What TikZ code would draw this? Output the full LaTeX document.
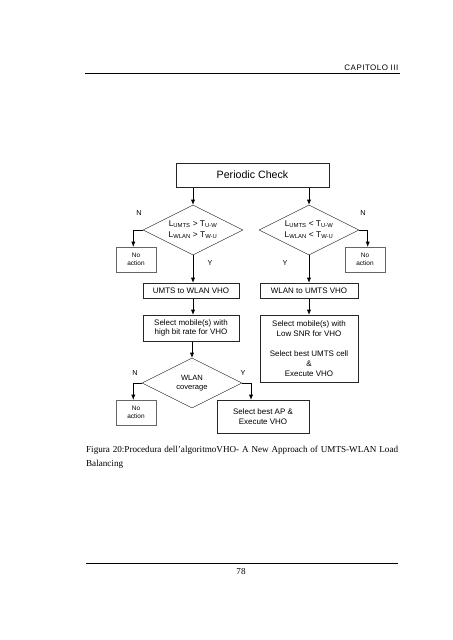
\documentclass[tikz,border=0pt]{standalone}
\usepackage{fontspec}
\setmainfont{Liberation Serif}
\newfontfamily\diagfont{Liberation Sans}
\newfontfamily\headfont[LetterSpace=6]{Liberation Sans}
\usepackage{tikz}
\usetikzlibrary{arrows.meta,shapes.geometric}

\begin{document}
\begin{tikzpicture}[x=1.316pt,y=1.316pt]
\tikzset{
    blk/.style={%
        draw=black!85, line width=0.6pt,
        rectangle,
        align=center,
        inner sep=0pt,
        font=\diagfont\fontsize{10.5}{13}\selectfont
        },
    cnd/.style={%
        draw=black!85, line width=0.6pt,
        diamond, aspect=2.4,
        align=center,
        inner sep=0pt,
        minimum width=131.6pt,
        minimum height=65.8pt,
        font=\diagfont\fontsize{11}{14.5}\selectfont
        },
    na/.style={%
        draw=black!60, line width=0.6pt,
        rectangle,
        align=center,
        inner sep=0pt,
        minimum width=52.6pt,
        minimum height=32.9pt,
        font=\diagfont\fontsize{8.5}{10.5}\selectfont
        },
    lbl/.style={font=\diagfont\fontsize{9.5}{11}\selectfont, inner sep=0pt},
    flow/.style={-{Latex[length=7pt,width=5.5pt]}, line width=1pt},
}
\useasboundingbox (0,0) rectangle (452,640);
%%%PAGE
\draw[line width=1pt] (85,566.7) -- (400,566.7);
\draw[line width=1pt] (86,76.7) -- (398,76.7);
%%%CONNECTOR POINTS
\coordinate (chkL) at (193,453);   \coordinate (chkR) at (309,453);
\coordinate (c1N) at (193,435);    \coordinate (c2N) at (309,435);
\coordinate (c1W) at (143,410);    \coordinate (c2E) at (359,410);
\coordinate (n1N) at (133.3,393);  \coordinate (n2N) at (367.7,393);
\coordinate (c1S) at (193,385);    \coordinate (c2S) at (309,385);
\coordinate (uwN) at (193,357);    \coordinate (wuN) at (309,357);
\coordinate (uwS) at (193,342);    \coordinate (wuS) at (309,342);
\coordinate (s1N) at (193,325);    \coordinate (s2N) at (309,325);
\coordinate (s1S) at (192,299);    \coordinate (c3N) at (192,282);
\coordinate (c3W) at (142,257);    \coordinate (c3E) at (242,257);
\coordinate (n3N) at (133.3,240);  \coordinate (apN) at (251,240);
%%%CONNECTORS
\draw[flow] (chkL) -- (c1N);
\draw[flow] (chkR) -- (c2N);
\draw[flow] (c1W) -| (n1N);
\draw[flow] (c2E) -| (n2N);
\draw[flow] (c1S) -- (uwN);
\draw[flow] (c2S) -- (wuN);
\draw[flow] (uwS) -- (s1N);
\draw[flow] (wuS) -- (s2N);
\draw[flow] (s1S) -- (c3N);
\draw[flow] (c3W) -| (n3N);
\draw[flow] (c3E) -| (apN);
%%%HEADER AND FOOTER TEXT
\node[anchor=base east, inner sep=0pt, font=\headfont\fontsize{10.5}{12}\selectfont] (hdr) at (398.5,569.5) {CAPITOLO III};
\node[anchor=base, inner sep=0pt, font=\fontsize{12}{14}\selectfont] (pg) at (241,65) {78};
%%%BOXES
\node[blk, minimum width=201pt, minimum height=31.6pt, font=\diagfont\fontsize{14}{16}\selectfont] (chk) at (252.5,465) {Periodic Check};
\node[cnd] (c1) at (193,410) {L\textsubscript{UMTS} > T\textsubscript{U-W}\\L\textsubscript{WLAN} > T\textsubscript{W-U}};
\node[cnd] (c2) at (309,410) {L\textsubscript{UMTS} < T\textsubscript{U-W}\\L\textsubscript{WLAN} < T\textsubscript{W-U}};
\node[na] (n1) at (136,380.5) {No\\action};
\node[na] (n2) at (365,380.5) {No\\action};
\node[blk, minimum width=126.3pt, minimum height=19.7pt] (uw) at (191,349.5) {UMTS to WLAN VHO};
\node[blk, minimum width=129pt, minimum height=19.7pt] (wu) at (309,349.5) {WLAN to UMTS VHO};
\node[blk, minimum width=126.3pt, minimum height=34.2pt] (s1) at (191,312) {Select mobile(s) with\\high bit rate for VHO};
\node[blk, minimum width=129pt, minimum height=88.2pt] (s2) at (309,291.5) {Select mobile(s) with\\Low SNR for VHO\\[13pt]Select best UMTS cell\\\&\\Execute VHO};
\node[cnd, font=\diagfont\fontsize{10}{12.5}\selectfont] (c3) at (192,257) {WLAN\\coverage};
\node[na] (n3) at (136,227.5) {No\\action};
\node[blk, minimum width=121pt, minimum height=43.4pt] (ap) at (263,223.5) {Select best AP \&\\Execute VHO};
%%%LABELS
\node[lbl] (l1) at (139,427) {N};
\node[lbl] (l2) at (363,427) {N};
\node[lbl] (l3) at (210,377) {Y};
\node[lbl] (l4) at (285,377) {Y};
\node[lbl] (l5) at (135,267) {N};
\node[lbl] (l6) at (243,267) {Y};
%%%CAPTION
\node[anchor=north west, inner sep=0pt, text width=410.6pt, align=justify, font=\fontsize{12}{18.4}\selectfont] (fig) at (86,194.5) {Figura 20:Procedura dell'algoritmoVHO- A New Approach of UMTS-WLAN Load\linebreak Balancing};
\end{tikzpicture}
\end{document}
